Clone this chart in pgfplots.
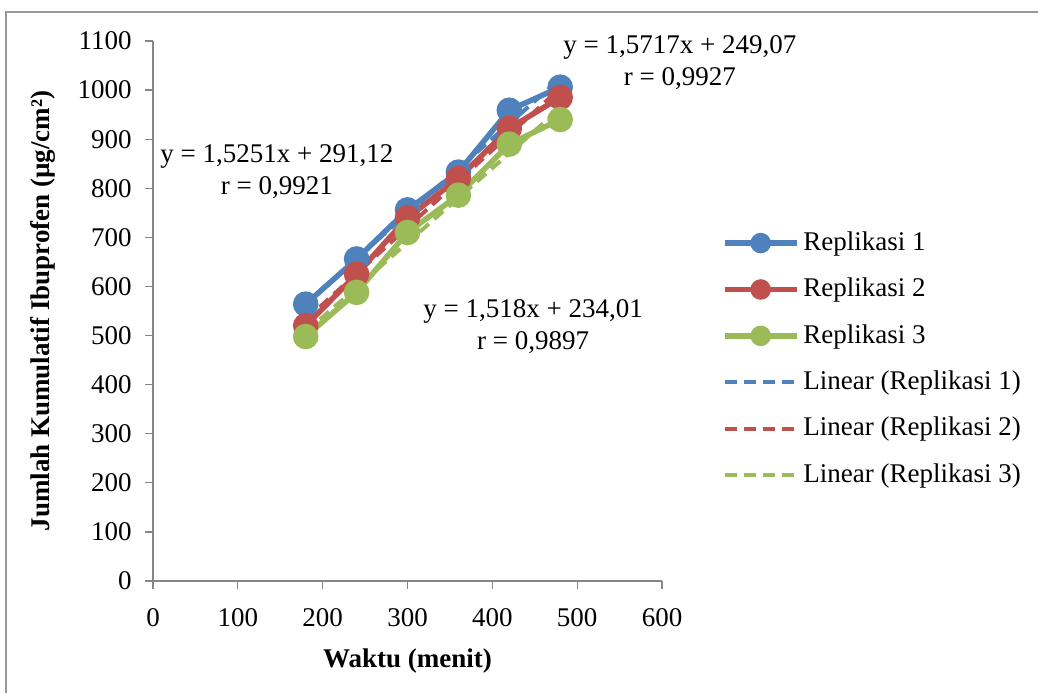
\documentclass[border=0pt]{standalone}
\usepackage{fontspec}
\setmainfont{Liberation Serif}
\usepackage{pgfplots}
\pgfplotsset{compat=1.18}
\definecolor{cBlue}{HTML}{4F81BD}
\definecolor{cRed}{HTML}{C0504D}
\definecolor{cGreen}{HTML}{9BBB59}
\definecolor{cAxis}{HTML}{868686}
\begin{document}
\fontsize{13.5}{16}\selectfont
\begin{tikzpicture}
\useasboundingbox (0,0) rectangle (519pt,346.5pt);
\draw[cAxis!85, line width=1pt] (3pt,0) -- (3pt,340.5pt) -- (519pt,340.5pt);
\begin{axis}[
  at={(76.5pt,56pt)}, anchor=south west,
  scale only axis, width=254.5pt, height=270pt,
  xmin=0, xmax=600, ymin=0, ymax=1100,
  xtick={0,100,...,600}, ytick={0,100,...,1100},
  axis lines*=left,
  axis line style={cAxis, line width=0.6pt},
  tick style={cAxis, line width=0.6pt},
  tick align=outside, major tick length=4pt,
  /pgf/number format/assume math mode=true,
  /pgf/number format/1000 sep={},
  ticklabel style={font=\fontsize{13.5}{16}\selectfont},
  xticklabel style={yshift=-5pt},
  yticklabel style={xshift=-2pt},
  xlabel={\textbf{Waktu (menit)}},
  ylabel={\textbf{Jumlah Kumulatif Ibuprofen (µg/cm²)}},
  label style={font=\fontsize{13.5}{16}\selectfont},
  xlabel style={yshift=-2pt},
  ylabel style={yshift=2pt},
  clip=false,
  legend cell align=left,
  legend style={draw=none, fill=none, at={(1.117,0.655)}, anchor=north west,
    row sep=7.8pt, font=\fontsize{13.5}{16}\selectfont, inner sep=0pt},
  legend image code/.code={\draw[mark repeat=2,mark phase=2,mark options={solid,scale=0.75}] plot coordinates {(0pt,0pt) (18pt,0pt) (36pt,0pt)};},
]
\addplot[cBlue, line width=2.75pt, mark=*, mark size=5pt, mark options={solid}] coordinates {
 (180,564) (240,656) (300,756) (360,833) (420,959) (480,1006)};
\addlegendentry{Replikasi 1}
\addplot[cRed, line width=2.75pt, mark=*, mark size=5pt, mark options={solid}] coordinates {
 (180,520) (240,625) (300,740) (360,820) (420,922) (480,985)};
\addlegendentry{Replikasi 2}
\addplot[cGreen, line width=2.75pt, mark=*, mark size=5pt, mark options={solid}] coordinates {
 (180,498) (240,588) (300,710) (360,786) (420,890) (480,940)};
\addlegendentry{Replikasi 3}
\addplot[cBlue, line width=2pt, dash pattern=on 6pt off 3.5pt] coordinates {
 (180,565.6) (480,1023.2)};
\addlegendentry{Linear (Replikasi 1)}
\addplot[cRed, line width=2pt, dash pattern=on 6pt off 3.5pt] coordinates {
 (180,532.0) (480,1003.5)};
\addlegendentry{Linear (Replikasi 2)}
\addplot[cGreen, line width=2pt, dash pattern=on 6pt off 3.5pt] coordinates {
 (180,507.2) (480,962.7)};
\addlegendentry{Linear (Replikasi 3)}
\node[align=center, font=\fontsize{13.5}{16}\selectfont] at (axis cs:146,833) {y = 1,5251x + 291,12\\r = 0,9921};
\node[align=center, font=\fontsize{13.5}{16}\selectfont] at (axis cs:621,1055) {y = 1,5717x + 249,07\\r = 0,9927};
\node[align=center, font=\fontsize{13.5}{16}\selectfont] at (axis cs:448,519) {y = 1,518x + 234,01\\r = 0,9897};
\end{axis}
\end{tikzpicture}
\end{document}
